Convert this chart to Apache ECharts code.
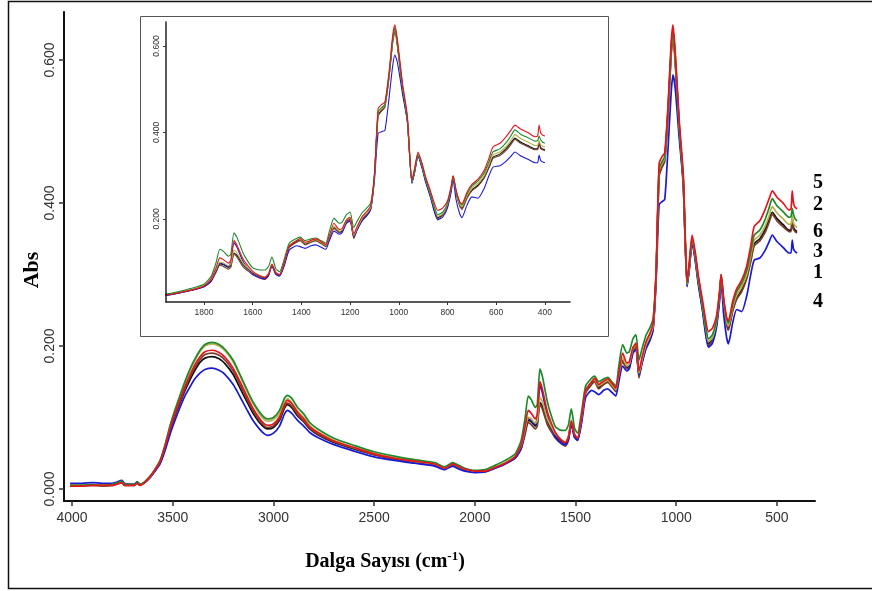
<!DOCTYPE html>
<html><head><meta charset="utf-8">
<script src="https://cdn.jsdelivr.net/npm/echarts@6/dist/echarts.min.js"></script>
<style>html,body{margin:0;padding:0;background:#fff}#c{width:872px;height:591px}</style>
</head><body><div id="c"></div>
<script>
const wavenumbers = [4010,3950,3900,3850,3800,3752,3740,3720,3690,3677,3663,3640,3613,3590,3563,3540,3514,3490,3464,3440,3414,3390,3365,3340,3305,3270,3240,3200,3166,3130,3102,3070,3045,3027,3000,2970,2945,2930,
2910,2880,2850,2820,2780,2700,2600,2500,2400,2300,2200,2150,2110,2080,2050,2000,1950,1900,1850,1800,1770,1750,1735,1720,1700,1690,1677,1665,1640,1620,1600,1570,1550,1535,1521,1505,1490,1470,1450,1420,1405,1385,1360,1340,1320,1300,1285,1266,1245,1233,1215,1200,1185,1170,1150,1130,1115,1100,1085,1070,1057,1040,1025,1016,1005,985,965,946,935,921,905,890,870,855,840,820,800,785,777,765,750,741,720,700,675,650,630,613,585,560,540,523,500,470,440,430,424,418,410,400];

const s1 = [.005,.005,.006,.005,.006,.010,.006,.006,.006,.010,.006,.009,.016,.025,.037,.056,.081,.101,.120,.137,.153,.166,.177,.183,.185,.182,.175,.160,.141,.121,.106,.093,.086,.084,.086,.096,.113,.118,
.114,.102,.094,.084,.076,.065,.056,.048,.042,.038,.034,.028,.034,.030,.027,.024,.025,.030,.036,.044,.058,.080,.096,.094,.088,.092,.121,.116,.095,.084,.075,.067,.064,.072,.094,.075,.070,.098,.136,.148,.152,.142,.148,.151,.145,.138,.158,.180,.170,.172,.194,.200,.158,.178,.200,.212,.226,.300,.440,.452,.462,.530,.612,.640,.600,.505,.430,.285,.310,.348,.322,.290,.255,.225,.203,.210,.232,.270,.298,.262,.232,.225,.250,.267,.278,.296,.320,.343,.350,.362,.376,.387,.378,.370,.362,.362,.378,.366,.362,.360];
const s5 = [.004,.004,.005,.005,.005,.009,.005,.005,.005,.008,.005,.009,.017,.026,.038,.058,.084,.105,.125,.143,.160,.174,.185,.192,.194,.191,.184,.169,.150,.129,.113,.099,.091,.089,.091,.101,.118,.124,
.120,.107,.098,.087,.079,.067,.058,.049,.043,.039,.035,.029,.035,.031,.028,.025,.025,.030,.036,.045,.062,.088,.110,.106,.098,.104,.150,.140,.108,.092,.079,.068,.065,.073,.095,.076,.071,.100,.138,.150,.155,.146,.151,.154,.148,.141,.162,.190,.176,.178,.198,.204,.165,.184,.206,.218,.232,.305,.455,.465,.470,.540,.625,.649,.612,.515,.440,.290,.318,.355,.330,.298,.265,.238,.220,.225,.242,.276,.300,.268,.240,.235,.262,.280,.292,.312,.340,.367,.375,.390,.405,.417,.408,.400,.390,.392,.417,.400,.394,.392];
const s2 = [.005,.005,.006,.005,.006,.011,.006,.006,.006,.010,.006,.010,.018,.027,.040,.060,.088,.110,.131,.150,.168,.182,.194,.202,.205,.202,.195,.180,.160,.138,.122,.108,.100,.098,.100,.110,.127,.131,
.127,.114,.105,.093,.084,.071,.061,.052,.046,.041,.037,.031,.037,.033,.029,.026,.027,.033,.040,.049,.068,.100,.130,.125,.114,.118,.168,.158,.122,.102,.087,.082,.082,.090,.112,.085,.078,.108,.144,.155,.158,.150,.154,.156,.150,.144,.172,.202,.190,.192,.210,.216,.180,.196,.215,.226,.238,.302,.448,.458,.465,.535,.618,.642,.605,.508,.433,.288,.314,.352,.326,.294,.258,.230,.210,.216,.236,.274,.300,.266,.238,.232,.258,.276,.288,.306,.332,.355,.362,.376,.392,.406,.396,.388,.380,.381,.392,.384,.378,.375];
const s6 = [.005,.005,.005,.005,.006,.010,.006,.006,.006,.009,.006,.010,.017,.026,.039,.059,.086,.108,.129,.148,.166,.180,.192,.200,.203,.200,.193,.178,.158,.136,.120,.105,.097,.095,.097,.106,.122,.126,
.121,.109,.100,.089,.080,.068,.058,.050,.044,.039,.035,.029,.035,.031,.028,.025,.026,.031,.037,.046,.061,.084,.100,.098,.092,.096,.128,.122,.098,.087,.077,.069,.066,.074,.096,.077,.072,.100,.138,.150,.153,.144,.149,.152,.146,.139,.160,.183,.172,.175,.196,.202,.162,.180,.202,.214,.228,.302,.445,.455,.463,.532,.615,.642,.603,.507,.432,.286,.312,.350,.324,.292,.257,.228,.206,.212,.234,.272,.298,.264,.234,.228,.254,.271,.283,.300,.326,.348,.355,.367,.381,.395,.386,.378,.370,.370,.382,.372,.368,.366];
const s3 = [.004,.004,.005,.004,.005,.009,.005,.005,.005,.008,.005,.009,.016,.025,.037,.056,.082,.103,.122,.140,.157,.170,.181,.188,.190,.187,.180,.165,.146,.125,.110,.096,.088,.086,.088,.098,.115,.120,
.116,.104,.095,.085,.077,.066,.057,.048,.042,.038,.034,.028,.034,.030,.027,.024,.024,.029,.035,.043,.056,.077,.093,.090,.084,.088,.118,.112,.090,.080,.071,.063,.060,.068,.092,.073,.068,.096,.134,.146,.150,.140,.146,.149,.143,.136,.156,.178,.168,.170,.192,.198,.155,.176,.198,.210,.224,.298,.438,.450,.458,.526,.608,.632,.595,.500,.426,.283,.308,.346,.320,.288,.252,.222,.200,.208,.230,.268,.296,.260,.230,.222,.248,.265,.276,.294,.318,.340,.347,.358,.372,.384,.375,.367,.360,.360,.375,.363,.360,.358];
const s4 = [.008,.008,.009,.008,.008,.012,.008,.007,.007,.010,.007,.009,.016,.024,.035,.052,.076,.095,.114,.130,.143,.154,.162,.167,.169,.166,.160,.146,.129,.110,.096,.084,.077,.075,.078,.088,.105,.110,
.106,.096,.088,.079,.072,.062,.053,.045,.040,.036,.032,.027,.032,.028,.025,.023,.024,.029,.035,.043,.057,.082,.098,.096,.090,.100,.145,.135,.102,.086,.073,.064,.062,.070,.090,.072,.068,.092,.128,.138,.136,.132,.138,.140,.135,.130,.150,.172,.165,.168,.190,.195,.160,.176,.196,.208,.222,.290,.398,.402,.405,.480,.555,.579,.560,.490,.425,.283,.308,.345,.318,.285,.250,.218,.198,.204,.226,.262,.290,.245,.212,.203,.232,.251,.248,.270,.300,.320,.323,.333,.345,.355,.346,.338,.330,.330,.348,.336,.332,.330];

const seriesLabels = ['5','2','6','3','1','4'];
const mainXTicks = [4000,3500,3000,2500,2000,1500,1000,500];
const mainYTicks = [0,0.2,0.4,0.6];
const insetXTicks = [1800,1600,1400,1200,1000,800,600,400];
const insetYTicks = [0.2,0.4,0.6];

const seriesDefs = [
  {name:'1', vals:s1, color:'#111111'},
  {name:'3', vals:s3, color:'#7a3b2e'},
  {name:'4', vals:s4, color:'#1a1ad6'},
  {name:'6', vals:s6, color:'#b8b04a'},
  {name:'2', vals:s2, color:'#1c8a2a'},
  {name:'5', vals:s5, color:'#e8141c'}
];

function pairs(vals){ return wavenumbers.map((w,i)=>[w, vals[i]]); }

const series = [];
seriesDefs.forEach(d=>{
  series.push({type:'line', name:d.name, xAxisIndex:0, yAxisIndex:0, data:pairs(d.vals), showSymbol:false, smooth:0.2,
    lineStyle:{color:d.color, width:1.7}, itemStyle:{color:d.color}, z:3, animation:false});
  series.push({type:'line', name:d.name+'i', xAxisIndex:1, yAxisIndex:1, data:pairs(d.vals), showSymbol:false, smooth:0.2, clip:true,
    lineStyle:{color:d.color, width:1.1}, itemStyle:{color:d.color}, z:5, animation:false});
});

const labelYs = [183,205,232,252,273,302];
const serif = '"Liberation Serif", "Times New Roman", serif';

const chart = echarts.init(document.getElementById('c'), null, {renderer:'canvas'});
chart.setOption({
  backgroundColor:'#fff',
  animation:false,
  grid:[
    {left:64, top:12, width:751, height:489},
    {left:166, top:22, width:404, height:280, z:4}
  ],
  xAxis:[
    {type:'value', gridIndex:0, min:311, max:4040, inverse:true,
     axisLine:{show:true, onZero:false, lineStyle:{color:'#111', width:2}},
     axisTick:{show:true, customValues:mainXTicks, length:5, lineStyle:{color:'#333', width:1.5}},
     axisLabel:{customValues:mainXTicks, color:'#333', fontFamily:'Liberation Sans, Arial', fontSize:14, margin:10, formatter:v=>String(v)},
     splitLine:{show:false}},
    {type:'value', gridIndex:1, min:297, max:1956, inverse:true,
     axisLine:{show:true, onZero:false, lineStyle:{color:'#222', width:1.5}},
     axisTick:{show:true, customValues:insetXTicks, length:3, lineStyle:{color:'#333'}},
     axisLabel:{customValues:insetXTicks, color:'#333', fontFamily:'Liberation Sans, Arial', fontSize:8.5, margin:6, formatter:v=>String(v)},
     splitLine:{show:false}, z:6}
  ],
  yAxis:[
    {type:'value', gridIndex:0, min:-0.0168, max:0.667,
     axisLine:{show:true, onZero:false, lineStyle:{color:'#111', width:2}},
     axisTick:{show:true, customValues:mainYTicks, length:5, lineStyle:{color:'#333', width:1.5}},
     axisLabel:{customValues:mainYTicks, rotate:90, color:'#333', fontFamily:'Liberation Sans, Arial', fontSize:14, margin:7,
       formatter:v=>v.toFixed(3)},
     splitLine:{show:false}},
    {type:'value', gridIndex:1, min:0.008, max:0.6555,
     axisLine:{show:true, onZero:false, lineStyle:{color:'#222', width:1.5}},
     axisTick:{show:true, customValues:insetYTicks, length:3, lineStyle:{color:'#333'}},
     axisLabel:{customValues:insetYTicks, rotate:90, color:'#333', fontFamily:'Liberation Sans, Arial', fontSize:8.5, margin:5,
       formatter:v=>v.toFixed(3)},
     splitLine:{show:false}, z:6}
  ],
  graphic:[
    {type:'rect', z:-10, shape:{x:8.5, y:1.5, width:900, height:587}, style:{fill:'#fff', stroke:'#111', lineWidth:1.5}},
    {type:'rect', z:1, shape:{x:140.5, y:16.5, width:468, height:320}, style:{fill:'#fff', stroke:'#555', lineWidth:1}},
    {type:'text', z:10, x:32, y:270, rotation:Math.PI/2, style:{text:'Abs', font:'bold 22px '+serif, fill:'#000', align:'center', verticalAlign:'middle'}},
    {type:'text', z:10, x:385, y:562, style:{text:'{a|Dalga Sayısı (cm}{s|-1}{a|)}', align:'center', verticalAlign:'middle',
      rich:{a:{font:'bold 20px '+serif, fill:'#000'}, s:{font:'bold 13px '+serif, fill:'#000', verticalAlign:'top', padding:[0,0,10,0]}}}}
  ].concat(seriesLabels.map((t,i)=>({type:'text', z:10, x:818, y:labelYs[i], style:{text:t, font:'bold 20px '+serif, fill:'#000', align:'center', verticalAlign:'middle'}}))),
  series: series
});
</script>
</body></html>
